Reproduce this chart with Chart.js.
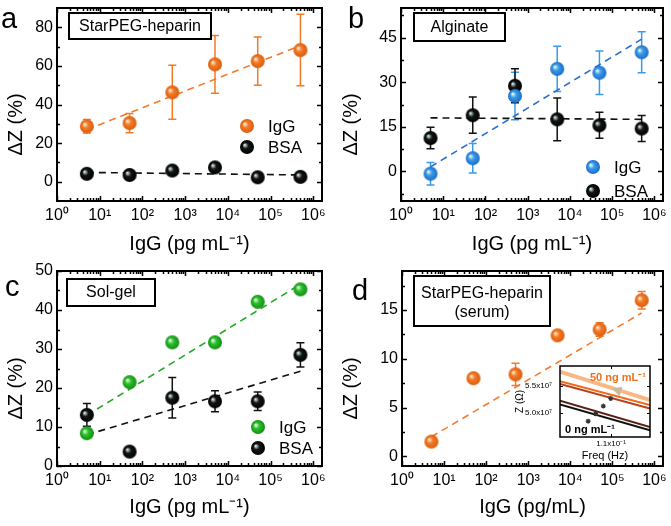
<!DOCTYPE html>
<html><head><meta charset="utf-8">
<script src="https://cdn.jsdelivr.net/npm/chart.js@4"></script>
<style>
html,body{margin:0;padding:0;background:#fff;}
#wrap{position:relative;width:671px;height:526px;overflow:hidden;background:#fff;}
canvas{position:absolute;}
</style></head><body>
<div id="wrap">
<canvas id="pa" width="335" height="263" style="left:0;top:0"></canvas>
<canvas id="pb" width="336" height="263" style="left:335px;top:0"></canvas>
<canvas id="pc" width="335" height="263" style="left:0;top:263px"></canvas>
<canvas id="pd" width="336" height="263" style="left:335px;top:263px"></canvas>
<canvas id="pi" width="150" height="110" style="left:512px;top:358px"></canvas>
</div>
<script>
const FONT = "'Liberation Sans', Arial, Helvetica, sans-serif";
Chart.defaults.font.family = FONT;
Chart.defaults.color = '#000';

// ---------- data ----------
const conc = [5, 50, 500, 5000, 50000, 500000];           // IgG concentration (pg/mL)
const fitX = [5, 500000];
const decades = [1, 10, 100, 1e3, 1e4, 1e5, 1e6];
const xTickLabels = ['10⁰', '10¹', '10²', '10³', '10⁴', '10⁵', '10⁶'];

// panel a: StarPEG-heparin
const aIgG    = [28.7, 30.4, 46.3, 60.8, 62.5, 68.2];
const aIgGErr = [3.5, 5, 14, 15, 12.5, 18.5];
const aBSA    = [4.1, 3.5, 5.8, 7.4, 2.3, 2.5];
const aIgGFit = [27, 70.5];
const aBSAFit = [4.8, 3.5];
const aYTicks = [0, 20, 40, 60, 80];

// panel b: Alginate
const bIgG    = [-0.8, 4.4, 25.4, 34.5, 33.2, 40.1];
const bIgGErr = [3.8, 5, 8, 7.6, 7.3, 6.9];
const bBSA    = [11.2, 18.9, 28.8, 17.5, 15.5, 14.4];
const bBSAErr = [3.6, 6.1, 5.7, 7.2, 4.4, 4.4];
const bIgGFit = [1.5, 44.5];
const bBSAFit = [18.0, 17.5];
const bYTicks = [0, 15, 30, 45];

// panel c: Sol-gel
const cIgG    = [8.4, 21.5, 31.7, 31.7, 42.1, 45.3];
const cIgGErr = [0.5, 0.5, 0.5, 0.5, 0.8, 1.0];
const cBSA    = [13.1, 3.7, 17.5, 16.6, 16.6, 28.5];
const cBSAErr = [2.9, 0, 5.2, 2.7, 2.4, 3.1];
const cIgGFit = [13.0, 46.6];
const cBSAFit = [8.0, 24.3];
const cYTicks = [0, 10, 20, 30, 40, 50];

// panel d: StarPEG-heparin (serum)
const dIgG    = [1.5, 8.0, 8.4, 12.4, 13.0, 16.0];
const dIgGErr = [0, 0, 1.15, 0, 0.7, 0.9];
const dIgGFit = [2.0, 14.7];
const dYTicks = [0, 5, 10, 15];

// inset: impedance vs frequency
const insetX = [0.0935, 0.1226];
const insetLines = [
  [5.765e7, 5.24e7],
  [5.59e7, 5.15e7],
  [5.537e7, 5.087e7],
  [5.228e7, 4.746e7],
  [5.161e7, 4.685e7]
];
const insetLineColors = ['#f8b884', '#f06a1a', '#b8401a', '#5a2214', '#111111'];
const insetDotsX = [0.1026, 0.1050, 0.1075, 0.1099];
const insetDotsY = [4.852e7, 4.99e7, 5.13e7, 5.27e7];
const insetArrowX = [0.1123];
const insetArrowY = [5.413e7];
const insetYTicks = [5.0e7, 5.5e7];
const insetYTickLabels = ['5.0x10⁷', '5.5x10⁷'];
const insetXTicks = [0.11];
const insetXTickLabels = ['1.1x10⁻¹'];

// ---------- helpers ----------
function ball(base, hi, edge, r) {
  const c = document.createElement('canvas');
  const s = 2 * r + 2; c.width = c.height = s;
  const g = c.getContext('2d');
  const cx = s / 2, cy = s / 2;
  const gr = g.createRadialGradient(cx - r * 0.35, cy - r * 0.3, r * 0.05, cx, cy, r);
  gr.addColorStop(0, hi); gr.addColorStop(0.4, base); gr.addColorStop(1, edge);
  g.fillStyle = gr; g.beginPath(); g.arc(cx, cy, r, 0, 2 * Math.PI); g.fill();
  return c;
}
const B_OR = ball('#f57a24', '#fff0dc', '#d85e10', 7);
const B_BL = ball('#3a9bea', '#e4ffe4', '#1c6cc8', 7);
const B_GR = ball('#2cc02c', '#eaffea', '#138e13', 7);
const B_BK = ball('#151515', '#d2f0f0', '#000000', 7);

function pts(xs, ys) { return xs.map((x, i) => ({ x: x, y: ys[i] })); }
function scat(label, ys, img, errs, errColor) {
  return { label: label, data: pts(conc, ys), pointStyle: img, pointRadius: 7, errors: errs, errColor: errColor };
}
function fit(ys, color) {
  return { type: 'line', label: 'fit', data: pts(fitX, ys), borderColor: color, borderWidth: 1.6,
           borderDash: [7, 5], pointRadius: 0, fill: false, showLine: true };
}
function xMinors(max) {
  const out = [];
  for (let k = 0; k <= 6; k++) for (let m = 2; m <= 9; m++) { const v = m * Math.pow(10, k); if (v < max) out.push(v); }
  return out;
}

// ---------- plugins ----------
const errorBars = { id: 'errorBars', beforeDatasetsDraw(chart) {
  const ctx = chart.ctx, ys = chart.scales.y;
  chart.data.datasets.forEach((ds, di) => {
    if (!ds.errors) return;
    const meta = chart.getDatasetMeta(di);
    ctx.save(); ctx.strokeStyle = ds.errColor; ctx.lineWidth = 1.5;
    meta.data.forEach((el, i) => {
      const e = ds.errors[i]; if (!e) return;
      const v = ds.data[i].y;
      const x = el.x, y1 = ys.getPixelForValue(v + e), y2 = ys.getPixelForValue(v - e);
      ctx.beginPath(); ctx.moveTo(x, y1); ctx.lineTo(x, y2);
      ctx.moveTo(x - 4, y1); ctx.lineTo(x + 4, y1); ctx.moveTo(x - 4, y2); ctx.lineTo(x + 4, y2);
      ctx.stroke();
    });
    ctx.restore();
  });
}};

const bgFill = { id: 'bgFill', beforeDraw(chart, args, o) {
  if (!o.on) return;
  const { left, top, right, bottom } = chart.chartArea;
  chart.ctx.save(); chart.ctx.fillStyle = '#fff'; chart.ctx.fillRect(left, top, right - left, bottom - top); chart.ctx.restore();
}};

const frame = { id: 'frame', afterDatasetsDraw(chart, args, o) {
  if (!o.on) return;
  const ctx = chart.ctx; const { left, right, top, bottom } = chart.chartArea;
  const xs = chart.scales.x, ys = chart.scales.y;
  ctx.save(); ctx.strokeStyle = '#000'; ctx.lineWidth = o.tickWidth;
  ctx.beginPath();
  const vx = (list, len) => (list || []).forEach(v => { const p = Math.round(xs.getPixelForValue(v)) + 0.5;
    ctx.moveTo(p, bottom); ctx.lineTo(p, bottom - len); ctx.moveTo(p, top); ctx.lineTo(p, top + len); });
  const vy = (list, len) => (list || []).forEach(v => { const p = Math.round(ys.getPixelForValue(v)) + 0.5;
    ctx.moveTo(left, p); ctx.lineTo(left + len, p); ctx.moveTo(right, p); ctx.lineTo(right - len, p); });
  vx(o.xMajor, o.major); vx(o.xMinor, o.minor); vy(o.yMajor, o.major); vy(o.yMinor, o.minor);
  ctx.stroke();
  ctx.lineWidth = o.frameWidth;
  ctx.strokeRect(left, top, right - left, bottom - top);
  ctx.restore();
}};

const decor = { id: 'decor', afterDraw(chart, args, o) {
  const ctx = chart.ctx; ctx.save(); ctx.fillStyle = '#000';
  if (o.letter) {
    ctx.font = '29px ' + FONT; ctx.textAlign = 'left'; ctx.textBaseline = 'alphabetic';
    ctx.fillText(o.letter.text, o.letter.x, o.letter.y);
  }
  if (o.box) {
    const b = o.box;
    ctx.fillStyle = '#fff'; ctx.fillRect(b.x, b.y, b.w, b.h);
    ctx.lineWidth = 2; ctx.strokeStyle = '#000'; ctx.strokeRect(b.x, b.y, b.w, b.h);
    ctx.fillStyle = '#000'; ctx.font = '16px ' + FONT; ctx.textAlign = 'center'; ctx.textBaseline = 'middle';
    b.lines.forEach((t, i) => ctx.fillText(t, b.x + b.w / 2, b.ty[i]));
  }
  if (o.legend) {
    o.legend.forEach(l => {
      const ds = chart.data.datasets[l.ds]; const img = ds.pointStyle;
      ctx.drawImage(img, l.x - img.width / 2, l.y - img.height / 2);
      ctx.fillStyle = '#000'; ctx.font = '17px ' + FONT; ctx.textAlign = 'left'; ctx.textBaseline = 'middle';
      ctx.fillText(ds.label, l.x + 21, l.y + 1);
    });
  }
  if (o.texts) {
    o.texts.forEach(t => {
      ctx.fillStyle = t.color; ctx.font = t.font; ctx.textAlign = 'left'; ctx.textBaseline = 'middle';
      ctx.fillText(t.text, t.x, t.y);
    });
  }
  ctx.restore();
}};
Chart.register(errorBars, bgFill, frame, decor);

// ---------- panel factory ----------
function panel(id, W, H, area, ymin, ymax, yTicks, yMinor, xTitle, datasets, decorOpts) {
  const XMAX = 1.6e6;
  return new Chart(document.getElementById(id), {
    type: 'scatter',
    data: { datasets: datasets },
    options: {
      responsive: false, animation: false, devicePixelRatio: 1,
      layout: { padding: { left: 0, top: area.T, right: W - area.R, bottom: 0 } },
      plugins: {
        legend: { display: false }, tooltip: { enabled: false },
        frame: { on: true, tickWidth: 1.5, frameWidth: 2, major: 5, minor: 3,
                 xMajor: decades, xMinor: xMinors(XMAX), yMajor: yTicks, yMinor: yMinor },
        decor: decorOpts
      },
      scales: {
        x: {
          type: 'logarithmic', min: 1, max: XMAX,
          grid: { display: false, drawTicks: false }, border: { display: false },
          afterBuildTicks: s => { s.ticks = decades.map(v => ({ value: v })); },
          afterFit: s => { s.height = H - area.B; s.paddingLeft = 0; s.paddingRight = 0; },
          ticks: { font: { size: 16 }, color: '#000', padding: 5, maxRotation: 0, autoSkip: false,
                   callback: v => xTickLabels[Math.round(Math.log10(v))] },
          title: { display: true, text: xTitle, font: { size: 20 }, color: '#000', padding: { top: 0, bottom: 7 } }
        },
        y: {
          type: 'linear', min: ymin, max: ymax,
          grid: { display: false, drawTicks: false }, border: { display: false },
          afterBuildTicks: s => { s.ticks = yTicks.map(v => ({ value: v })); },
          afterFit: s => { s.width = area.L; s.paddingTop = 0; s.paddingBottom = 0; },
          ticks: { font: { size: 16 }, color: '#000', padding: 4 },
          title: { display: true, text: 'ΔZ (%)\u2003\u2003', font: { size: 20 }, color: '#000', padding: { top: 4, bottom: 0 } }
        }
      }
    }
  });
}

// panel a
panel('pa', 335, 263, { L: 57, T: 3, R: 322, B: 201 }, -10, 90, aYTicks, [10, 30, 50, 70], 'IgG (pg mL⁻¹)', [
  scat('IgG', aIgG, B_OR, aIgGErr, '#f47a24'),
  scat('BSA', aBSA, B_BK, null, '#000'),
  fit(aIgGFit, '#f47a30'),
  fit(aBSAFit, '#111')
], {
  letter: { text: 'a', x: 1, y: 28 },
  box: { x: 69, y: 13, w: 142, h: 26, lines: ['StarPEG-heparin'], ty: [26.5] },
  legend: [{ ds: 0, x: 247, y: 126 }, { ds: 1, x: 247, y: 147 }]
});

// panel b
panel('pb', 336, 263, { L: 66, T: 3, R: 331, B: 201 }, -10, 55, bYTicks, [-7.5, 7.5, 22.5, 37.5, 52.5], 'IgG (pg mL⁻¹)', [
  scat('IgG', bIgG, B_BL, bIgGErr, '#3a9bea'),
  scat('BSA', bBSA, B_BK, bBSAErr, '#111'),
  fit(bIgGFit, '#2a6ed2'),
  fit(bBSAFit, '#111')
], {
  letter: { text: 'b', x: 13, y: 28 },
  box: { x: 79, y: 13, w: 91, h: 28, lines: ['Alginate'], ty: [27.5] },
  legend: [{ ds: 0, x: 258, y: 167 }, { ds: 1, x: 258, y: 191 }]
});

// panel c
panel('pc', 335, 263, { L: 57, T: 7, R: 322, B: 203 }, 0, 50, cYTicks, [5, 15, 25, 35, 45], 'IgG (pg mL⁻¹)', [
  scat('IgG', cIgG, B_GR, cIgGErr, '#2cc02c'),
  scat('BSA', cBSA, B_BK, cBSAErr, '#111'),
  fit(cIgGFit, '#22aa22'),
  fit(cBSAFit, '#111')
], {
  letter: { text: 'c', x: 5, y: 33 },
  box: { x: 67, y: 16, w: 88, h: 27, lines: ['Sol-gel'], ty: [30] },
  legend: [{ ds: 0, x: 258, y: 164 }, { ds: 1, x: 258, y: 185 }]
});

// panel d
panel('pd', 336, 263, { L: 67, T: 5, R: 333, B: 203 }, -1, 19, dYTicks, [2.5, 7.5, 12.5, 17.5], 'IgG (pg/mL)', [
  scat('IgG', dIgG, B_OR, dIgGErr, '#f47a24'),
  fit(dIgGFit, '#f47a30')
], {
  letter: { text: 'd', x: 17, y: 37 },
  box: { x: 79, y: 13, w: 136, h: 50, lines: ['StarPEG-heparin', '(serum)'], ty: [31, 50] }
});

// inset
const insetDatasets = [
  { label: 'dots', data: pts(insetDotsX, insetDotsY), pointStyle: 'star', pointRadius: 2.5,
    borderColor: '#333', backgroundColor: '#333', borderWidth: 1.2 },
  { label: 'arrow', data: pts(insetArrowX, insetArrowY), pointStyle: 'triangle', rotation: 45, pointRadius: 5,
    borderColor: '#c8b8a0', backgroundColor: '#c8b8a0', borderWidth: 1 }
].concat(insetLines.map((l, i) => ({
  type: 'line', label: 'Z' + i, data: pts(insetX, l), borderColor: insetLineColors[i],
  borderWidth: i === 0 ? 4 : 2, pointRadius: 0, fill: false
})));

new Chart(document.getElementById('pi'), {
  type: 'scatter',
  data: { datasets: insetDatasets },
  options: {
    responsive: false, animation: false, devicePixelRatio: 1,
    layout: { padding: { left: 0, top: 8, right: 12, bottom: 0 } },
    plugins: {
      legend: { display: false }, tooltip: { enabled: false },
      bgFill: { on: true },
      frame: { on: true, tickWidth: 1, frameWidth: 1.5, major: 3, minor: 0, xMajor: insetXTicks, yMajor: insetYTicks },
      decor: { texts: [
        { text: '50 ng mL⁻¹', x: 78, y: 20, color: '#f07020', font: 'bold 11px ' + FONT },
        { text: '0 ng mL⁻¹', x: 53, y: 72, color: '#000', font: 'bold 11px ' + FONT }
      ] }
    },
    scales: {
      x: {
        type: 'linear', min: insetX[0], max: insetX[1],
        grid: { display: false, drawTicks: false }, border: { display: false },
        afterBuildTicks: s => { s.ticks = insetXTicks.map(v => ({ value: v })); },
        afterFit: s => { s.height = 31; s.paddingLeft = 0; s.paddingRight = 0; },
        ticks: { font: { size: 8 }, color: '#000', padding: 2, maxRotation: 0, autoSkip: false,
                 callback: (v, i) => insetXTickLabels[i] },
        title: { display: true, text: 'Freq (Hz)', font: { size: 11 }, color: '#000', padding: { top: 0, bottom: 5 } }
      },
      y: {
        type: 'linear', min: 4.56e7, max: 5.87e7,
        grid: { display: false, drawTicks: false }, border: { display: false },
        afterBuildTicks: s => { s.ticks = insetYTicks.map(v => ({ value: v })); },
        afterFit: s => { s.width = 48; s.paddingTop = 0; s.paddingBottom = 0; },
        ticks: { font: { size: 8 }, color: '#000', padding: 8, callback: (v, i) => insetYTickLabels[i] },
        title: { display: true, text: 'Z (Ω)', font: { size: 10 }, color: '#000', padding: { top: 2, bottom: 0 } }
      }
    }
  }
});
</script>
</body></html>
